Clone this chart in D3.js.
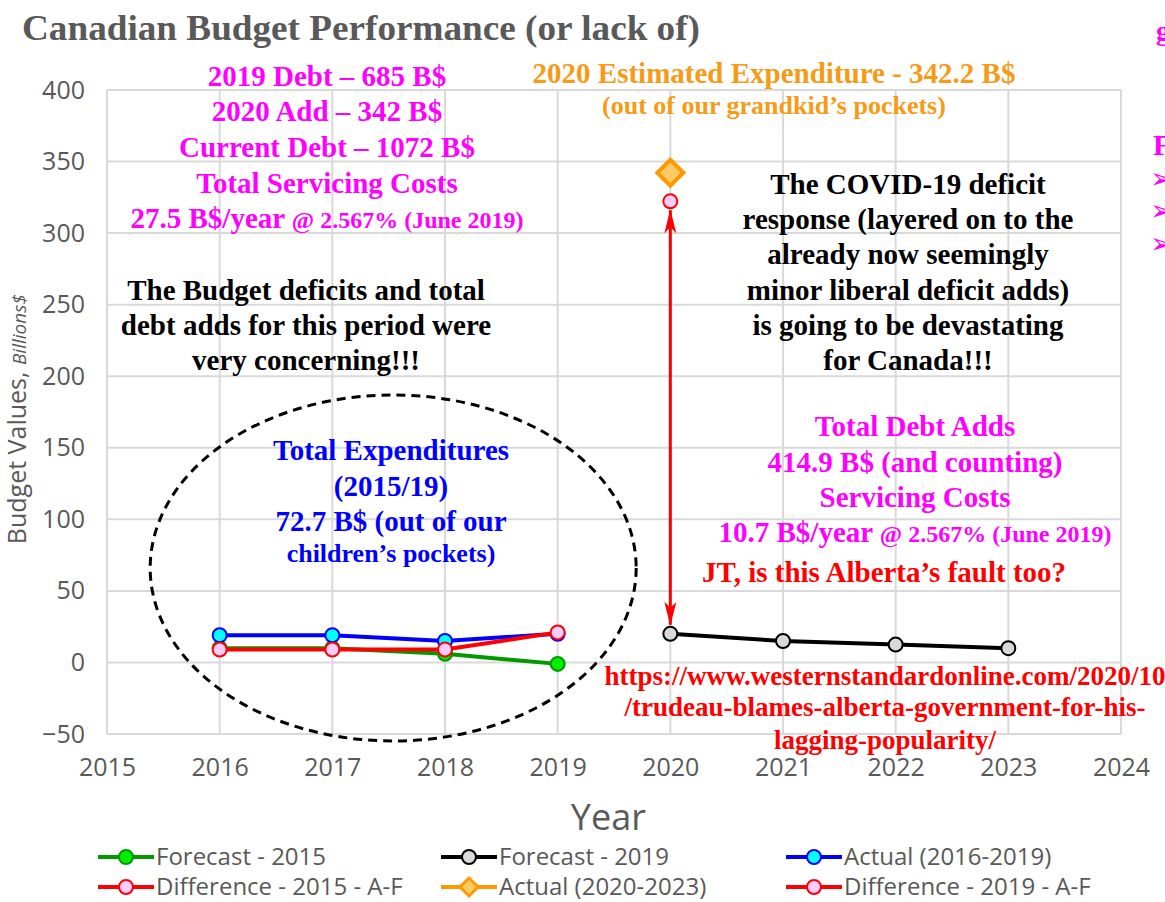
<!DOCTYPE html>
<html lang="en">
<head>
<meta charset="UTF-8">
<title>Canadian Budget Performance</title>
<script src="https://cdn.jsdelivr.net/npm/d3@7/dist/d3.min.js"></script>
<style>
  body { margin: 0; background: #fff; }
  svg { display: block; }
  .tick text { font-family: "Open Sans", sans-serif; fill: #595959; }
  .note { font-family: "Liberation Serif", "Times New Roman", serif; font-weight: bold; text-anchor: middle; }
</style>
</head>
<body>
<script>
// data
var years2015 = [2016, 2017, 2018, 2019];
var forecast2015 = [10, 10, 6, -1];
var actual1619 = [19, 19, 15, 20];
var diff2015 = [9, 9, 9, 21];
var years2019 = [2020, 2021, 2022, 2023];
var forecast2019 = [20, 15, 12.5, 10];
var actual2023 = [342.2];
var diff2019 = [322.2];
var xTicks = [2015, 2016, 2017, 2018, 2019, 2020, 2021, 2022, 2023, 2024];
var yTicks = [-50, 0, 50, 100, 150, 200, 250, 300, 350, 400];

var width = 1165, height = 902;
var svg = d3.select("body").append("svg")
    .attr("width", width)
    .attr("height", height);

var x = d3.scaleLinear().domain([2015, 2024]).range([107, 1121]);
var y = d3.scaleLinear().domain([-50, 400]).range([734, 90]);

// grid
var grid = svg.append("g");
grid.selectAll("line.v").data(xTicks).enter().append("line")
    .attr("x1", d => x(d)).attr("x2", d => x(d))
    .attr("y1", y(400)).attr("y2", y(-50))
    .attr("stroke", "#d9d9d9").attr("stroke-width", 2);
grid.selectAll("line.h").data(yTicks).enter().append("line")
    .attr("x1", x(2015)).attr("x2", x(2024))
    .attr("y1", d => y(d)).attr("y2", d => y(d))
    .attr("stroke", "#d9d9d9").attr("stroke-width", 2);

// axes (labels only)
var xAxis = svg.append("g")
    .attr("transform", "translate(0," + y(-50) + ")")
    .call(d3.axisBottom(x).tickValues(xTicks).tickFormat(d3.format("d")).tickSize(0).tickPadding(24));
xAxis.select(".domain").remove();
xAxis.selectAll("text").style("font-size", "25px");

var yAxis = svg.append("g")
    .attr("transform", "translate(" + x(2015) + ",0)")
    .call(d3.axisLeft(y).tickValues(yTicks).tickSize(0).tickPadding(22));
yAxis.select(".domain").remove();
yAxis.selectAll("text").style("font-size", "25px");

// axis titles
svg.append("text")
    .attr("x", x(2019.45)).attr("y", 830)
    .attr("text-anchor", "middle")
    .style("font-family", "Open Sans, sans-serif")
    .style("font-size", "36px").style("fill", "#595959")
    .text("Year");

var yt = svg.append("text")
    .attr("transform", "translate(26," + y(170) + ") rotate(-90)")
    .attr("text-anchor", "middle")
    .style("font-family", "Open Sans, sans-serif")
    .style("fill", "#595959");
yt.append("tspan").style("font-size", "25px").text("Budget Values, ");
yt.append("tspan").style("font-size", "19px").style("font-style", "italic").text("Billions$");

// dashed ellipse annotation
svg.append("ellipse")
    .attr("cx", x(2017.54)).attr("cy", y(66))
    .attr("rx", 243).attr("ry", 173)
    .attr("fill", "none").attr("stroke", "#000")
    .attr("stroke-width", 3).attr("stroke-dasharray", "9,6");

// series
var series = [
  { name: "Forecast - 2015", xs: years2015, ys: forecast2015, line: "#009900", fill: "#00ee00", stroke: "#009900", shape: "circle" },
  { name: "Forecast - 2019", xs: years2019, ys: forecast2019, line: "#000000", fill: "#d9d9d9", stroke: "#000000", shape: "circle" },
  { name: "Actual (2016-2019)", xs: years2015, ys: actual1619, line: "#0000ff", fill: "#00ffff", stroke: "#0000ff", shape: "circle" },
  { name: "Difference - 2015 - A-F", xs: years2015, ys: diff2015, line: "#ff0000", fill: "#ffccff", stroke: "#ff0000", shape: "circle" },
  { name: "Actual (2020-2023)", xs: [2020], ys: actual2023, line: "#ff9900", fill: "#ffc966", stroke: "#ff9900", shape: "diamond" },
  { name: "Difference - 2019 - A-F", xs: [2020], ys: diff2019, line: "#ff0000", fill: "#ffccff", stroke: "#ff0000", shape: "circle" }
];

var lineGen = d3.line().x(d => x(d[0])).y(d => y(d[1]));

function drawMarker(g, s, cx, cy, big) {
  if (s.shape === "diamond") {
    var r = big ? 13 : 9;
    g.append("path")
      .attr("d", "M" + cx + "," + (cy - r) + "L" + (cx + r) + "," + cy + "L" + cx + "," + (cy + r) + "L" + (cx - r) + "," + cy + "Z")
      .attr("fill", s.fill).attr("stroke", s.stroke).attr("stroke-width", big ? 4 : 3);
  } else {
    g.append("circle").attr("cx", cx).attr("cy", cy).attr("r", 7)
      .attr("fill", s.fill).attr("stroke", s.stroke).attr("stroke-width", 2);
  }
}

series.forEach(function (s) {
  var pts = s.xs.map((v, i) => [v, s.ys[i]]);
  var g = svg.append("g");
  if (pts.length > 1) {
    g.append("path").datum(pts)
      .attr("d", lineGen)
      .attr("fill", "none").attr("stroke", s.line).attr("stroke-width", 4);
  }
  pts.forEach(p => drawMarker(g, s, x(p[0]), y(p[1]), true));
});

// double arrow
var defs = svg.append("defs");
defs.append("marker").attr("id", "ah")
    .attr("viewBox", "0 0 24 12").attr("refX", 23).attr("refY", 6)
    .attr("markerWidth", 24).attr("markerHeight", 12)
    .attr("markerUnits", "userSpaceOnUse").attr("orient", "auto-start-reverse")
  .append("path").attr("d", "M0,0 L24,6 L0,12 L6,6 Z").attr("fill", "#ff0000");
svg.append("line")
    .attr("x1", x(2020)).attr("x2", x(2020))
    .attr("y1", y(diff2019[0]) + 9).attr("y2", y(forecast2019[0]) - 9)
    .attr("stroke", "#ff0000").attr("stroke-width", 3)
    .attr("marker-start", "url(#ah)").attr("marker-end", "url(#ah)");

// title
svg.append("text")
    .attr("x", 22).attr("y", 40)
    .attr("textLength", 678).attr("lengthAdjust", "spacingAndGlyphs")
    .style("font-family", "Liberation Serif, serif")
    .style("font-weight", "bold").style("font-size", "35px")
    .style("fill", "#595959")
    .text("Canadian Budget Performance (or lack of)");

// annotations
function note(lines, cx, ys, color, size) {
  lines.forEach(function (l, i) {
    var t = svg.append("text").attr("class", "note")
      .attr("x", cx).attr("y", ys[i])
      .style("fill", color).style("font-size", size + "px");
    if (Array.isArray(l)) {
      t.append("tspan").text(l[0]);
      t.append("tspan").style("font-size", "24px").text(l[1]);
    } else {
      t.text(l);
    }
  });
}

note(["2019 Debt \u2013 685 B$", "2020 Add \u2013 342 B$", "Current Debt \u2013 1072 B$",
      "Total Servicing Costs", ["27.5 B$/year ", "@ 2.567% (June 2019)"]],
     327, [86, 121, 157, 193, 228], "#ff00ff", 29);

note(["2020 Estimated Expenditure - 342.2 B$"], 774, [83], "#f79a16", 29);
note(["(out of our grandkid\u2019s pockets)"], 774, [114], "#f79a16", 26);

note(["The COVID-19 deficit", "response (layered on to the", "already now seemingly",
      "minor liberal deficit adds)", "is going to be devastating", "for Canada!!!"],
     908, [194, 229, 264, 300, 335, 370], "#000", 29);

note(["The Budget deficits and total", "debt adds for this period were", "very concerning!!!"],
     306, [300, 335, 370], "#000", 29);

note(["Total Expenditures", "(2015/19)", "72.7 B$ (out of our"], 391, [460, 496, 531], "#0000ff", 29);
note(["children\u2019s pockets)"], 391, [562], "#0000ff", 26);

note(["Total Debt Adds", "414.9 B$ (and counting)", "Servicing Costs",
      ["10.7 B$/year ", "@ 2.567% (June 2019)"]],
     915, [436, 472, 507, 542], "#ff00ff", 29);

note(["JT, is this Alberta\u2019s fault too?"], 884, [582], "#ff0000", 29);

note(["https://www.westernstandardonline.com/2020/10", "/trudeau-blames-alberta-government-for-his-",
      "lagging-popularity/"], 885, [685, 716, 749], "#ff0000", 27);

// clipped text at right edge
var edge = svg.append("g").style("fill", "#ff00ff")
    .style("font-family", "Liberation Serif, serif").style("font-weight", "bold");
edge.append("text").attr("x", 1156).attr("y", 40).style("font-size", "28px").text("g");
edge.append("text").attr("x", 1153).attr("y", 155).style("font-size", "30px").text("F");
[188, 220, 253].forEach(function (yy) {
  edge.append("text").attr("x", 1150).attr("y", yy)
    .style("font-family", "DejaVu Sans, sans-serif").style("font-size", "28px").text("\u27A2");
});

// legend
var legendCols = [98, 441, 786];
var legendRows = [857, 887];
var legend = svg.append("g");
series.forEach(function (s, k) {
  var lx = legendCols[k % 3], ly = legendRows[Math.floor(k / 3)];
  var g = legend.append("g");
  g.append("line").attr("x1", lx).attr("x2", lx + 56)
    .attr("y1", ly).attr("y2", ly)
    .attr("stroke", s.line).attr("stroke-width", 4);
  drawMarker(g, s, lx + 28, ly, false);
  g.append("text").attr("x", lx + 58).attr("y", ly + 8)
    .style("font-family", "Open Sans, sans-serif")
    .style("font-size", "24px").style("fill", "#595959")
    .text(s.name);
});
</script>
</body>
</html>
